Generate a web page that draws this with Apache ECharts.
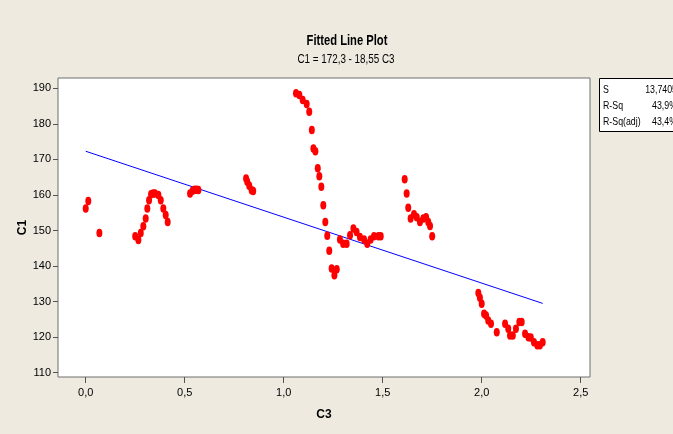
<!DOCTYPE html>
<html>
<head>
<meta charset="utf-8">
<script src="https://cdn.jsdelivr.net/npm/echarts@6/dist/echarts.min.js"></script>
<style>
html,body{margin:0;padding:0;background:#EEEAE0;}
#c{width:673px;height:434px;}
</style>
</head>
<body>
<div id="c"></div>
<script>
// ---- data ----
var c3Values = [
  0.000, 0.013, 0.069,
  0.250, 0.266, 0.278, 0.291, 0.303, 0.311, 0.320, 0.330, 0.340, 0.350, 0.367, 0.379, 0.392, 0.404, 0.414,
  0.527, 0.540, 0.550, 0.560, 0.569,
  0.810, 0.816, 0.826, 0.838, 0.846,
  1.062, 1.079, 1.096, 1.116, 1.129, 1.142, 1.150, 1.160, 1.172, 1.180, 1.190, 1.200, 1.210, 1.220, 1.230, 1.242, 1.256, 1.268,
  1.284, 1.300, 1.318, 1.335, 1.352, 1.368, 1.385, 1.406, 1.422, 1.439, 1.456, 1.478, 1.490,
  1.611, 1.621, 1.629, 1.641, 1.658, 1.672, 1.688, 1.705, 1.719, 1.730, 1.739, 1.750,
  1.983, 1.991, 2.000, 2.012, 2.022, 2.033, 2.047, 2.076, 2.118, 2.134, 2.143, 2.157, 2.173, 2.190, 2.202,
  2.219, 2.236, 2.248, 2.264, 2.281, 2.294, 2.308
];
var c1Values = [
  156.2, 158.3, 149.3,
  148.4, 147.3, 149.3, 151.2, 153.4, 156.2, 158.5, 160.2, 160.4, 160.4, 160.0, 158.5, 156.2, 154.4, 152.4,
  160.4, 161.2, 161.5, 161.5, 161.4,
  164.6, 163.7, 162.6, 161.3, 161.1,
  188.6, 188.1, 186.7, 185.6, 183.4, 178.3, 173.1, 172.3, 167.5, 165.3, 162.3, 157.1, 152.4, 148.5, 144.3, 139.3, 137.4, 139.1,
  147.5, 146.3, 146.3, 148.7, 150.6, 149.6, 148.2, 147.5, 146.3, 147.5, 148.4, 148.4, 148.4,
  164.4, 160.4, 156.4, 153.4, 154.6, 153.7, 152.4, 153.4, 153.7, 152.4, 151.3, 148.4,
  132.4, 131.1, 129.4, 126.6, 126.1, 124.7, 123.8, 121.4, 123.8, 122.4, 120.5, 120.5, 122.4, 124.3, 124.3,
  121.0, 120.0, 119.9, 118.6, 117.7, 117.7, 118.6
];
var fitC3 = [0.000, 2.308];
var fitC1 = [172.3, 129.5];
var xTicks = [0, 0.5, 1.0, 1.5, 2.0, 2.5];
var yTicks = [110, 120, 130, 140, 150, 160, 170, 180, 190];
var statNames = ['S', 'R-Sq', 'R-Sq(adj)'];
var statValues = ['13,7405', '43,9%', '43,4%'];
var titleText = 'Fitted Line Plot';
var subtitleText = 'C1 = 172,3 - 18,55 C3';

// ---- build ----
var FONT = '"Liberation Sans", Arial, sans-serif';
var points = c3Values.map(function (x, i) { return [x, c1Values[i]]; });
var fitLine = fitC3.map(function (x, i) { return [x, fitC1[i]]; });

var chart = echarts.init(document.getElementById('c'), null, {renderer: 'canvas'});

var graphics = [{
  type: 'rect', left: 599, top: 78, silent: true,
  shape: {width: 100, height: 53},
  style: {fill: '#ffffff', stroke: '#000000', lineWidth: 1}
}, {
  type: 'text', x: 347, y: 41, scaleX: 0.8, silent: true,
  style: {text: titleText, font: 'bold 14px ' + FONT, fill: '#000', textAlign: 'center', textVerticalAlign: 'middle'}
}, {
  type: 'text', x: 346, y: 60, scaleX: 0.82, silent: true,
  style: {text: subtitleText, font: '12px ' + FONT, fill: '#000', textAlign: 'center', textVerticalAlign: 'middle'}
}];
statNames.forEach(function (n, i) {
  graphics.push({
    type: 'text', x: 603, y: 90 + i * 16, scaleX: 0.8, silent: true,
    style: {text: n, font: '11px ' + FONT, fill: '#000', textVerticalAlign: 'middle', textAlign: 'left'}
  });
  graphics.push({
    type: 'text', x: 677, y: 90 + i * 16, scaleX: 0.8, silent: true,
    style: {text: statValues[i], font: '11px ' + FONT, fill: '#000', textVerticalAlign: 'middle', textAlign: 'right'}
  });
});

chart.setOption({
  backgroundColor: '#EEEAE0',
  animation: false,
  grid: {left: 58, top: 78, right: 83, bottom: 57, show: true,
         backgroundColor: '#ffffff', borderColor: '#6e6e6e', borderWidth: 1,
         outerBoundsMode: 'none', containLabel: false},
  xAxis: {
    type: 'value', min: -0.14, max: 2.547,
    name: 'C3', nameLocation: 'middle', nameGap: 32,
    nameTextStyle: {fontFamily: FONT, fontSize: 12, fontWeight: 'bold', color: '#000'},
    axisLine: {show: false, onZero: false},
    splitLine: {show: false},
    axisTick: {show: true, length: 6, customValues: xTicks, lineStyle: {color: '#555'}},
    axisLabel: {customValues: xTicks, margin: 10, color: '#000', fontFamily: FONT, fontSize: 11,
      formatter: function (v) { return v.toFixed(1).replace('.', ','); }}
  },
  yAxis: {
    type: 'value', min: 108.8, max: 192.9,
    name: 'C1', nameLocation: 'middle', nameGap: 29, nameRotate: 90, nameMoveOverlap: false,
    nameTextStyle: {fontFamily: FONT, fontSize: 12, fontWeight: 'bold', color: '#000'},
    axisLine: {show: false, onZero: false},
    splitLine: {show: false},
    axisTick: {show: true, length: 5, customValues: yTicks, lineStyle: {color: '#555'}},
    axisLabel: {customValues: yTicks, margin: 7, color: '#000', fontFamily: FONT, fontSize: 11}
  },
  series: [
    {type: 'line', data: fitLine, symbol: 'none', silent: true,
     lineStyle: {color: '#0000FF', width: 1}, z: 2},
    {type: 'scatter', data: points, symbol: 'circle', symbolSize: [6, 8.5],
     itemStyle: {color: '#FF0000', opacity: 1}, z: 3}
  ],
  graphic: graphics
});
</script>
</body>
</html>
